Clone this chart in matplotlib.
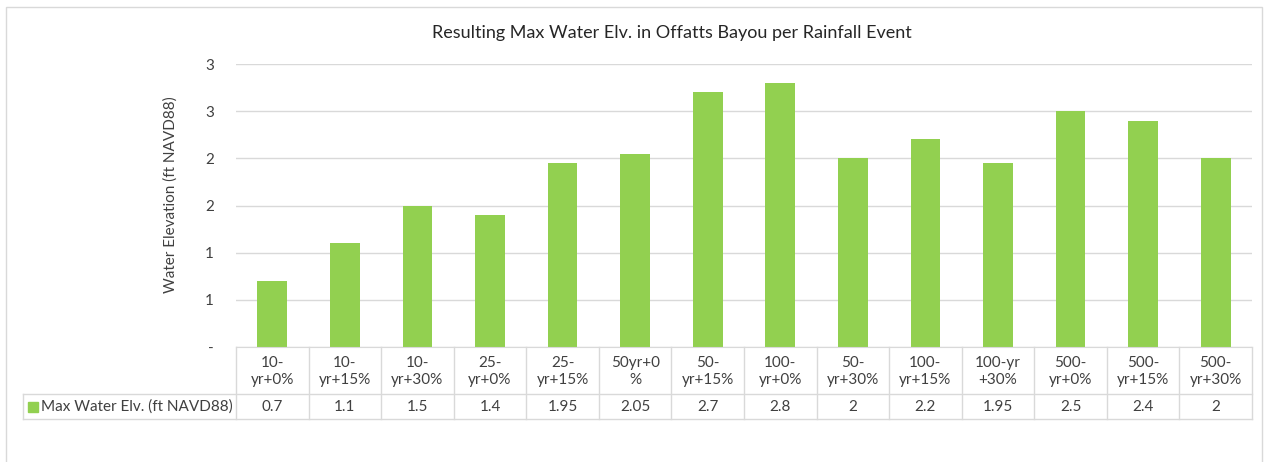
import matplotlib.pyplot as plt
from matplotlib.patches import Rectangle
from matplotlib.ticker import FuncFormatter, MultipleLocator

plt.rcParams['font.family'] = ['Lato', 'DejaVu Sans']

events = ["10-\nyr+0%", "10-\nyr+15%", "10-\nyr+30%", "25-\nyr+0%", "25-\nyr+15%",
          "50yr+0\n%", "50-\nyr+15%", "100-\nyr+0%", "50-\nyr+30%", "100-\nyr+15%",
          "100-yr\n+30%", "500-\nyr+0%", "500-\nyr+15%", "500-\nyr+30%"]
max_elev = [0.7, 1.1, 1.5, 1.4, 1.95, 2.05, 2.7, 2.8, 2, 2.2, 1.95, 2.5, 2.4, 2]
series_name = "Max Water Elv. (ft NAVD88)"

W, H = 1265, 462
bar_color = "#92D050"
grid_color = "#D9D9D9"
text_color = "#404040"
fs = 11

fig = plt.figure(figsize=(W / 100, H / 100), dpi=100)

# chart frame
fig.patches.append(Rectangle((6 / W, -0.1), 1256 / W, 1 - 7 / H + 0.1,
                             transform=fig.transFigure, fill=False,
                             edgecolor=grid_color, linewidth=1))

left, right, top, bottom = 236, 1252, 64, 347
ax = fig.add_axes([left / W, 1 - bottom / H, (right - left) / W, (bottom - top) / H])

x = range(len(events))
ax.bar(x, max_elev, width=0.41, color=bar_color, zorder=2)
ax.set_xlim(-0.5, len(events) - 0.5)
ax.set_ylim(0, 3)
ax.yaxis.set_major_locator(MultipleLocator(0.5))
ax.yaxis.set_major_formatter(FuncFormatter(lambda v, p: "-" if v == 0 else str(int(v + 0.5))))
ax.grid(axis="y", color=grid_color, linewidth=1, zorder=0)
ax.tick_params(axis="y", length=0, pad=16, labelsize=fs, labelcolor=text_color)
ax.set_xticks([])
for s in ["top", "right", "left"]:
    ax.spines[s].set_visible(False)
ax.spines["bottom"].set_color(grid_color)
ax.set_ylabel("Water Elevation (ft NAVD88)", fontsize=fs, color=text_color)
ax.yaxis.set_label_coords((178 - left) / (right - left), 1 - (195 - top) / (bottom - top))
fig.text(672 / W, 1 - 33 / H, "Resulting Max Water Elv. in Offatts Bayou per Rainfall Event",
         ha="center", va="center", fontsize=13, color="#262626")

# data table under the plot
row1, row2 = 394, 419
tab = fig.add_axes([left / W, 1 - row2 / H, (right - left) / W, (row2 - bottom) / H])
tab.set_xlim(-0.5, len(events) - 0.5)
tab.set_ylim(row2, bottom)
tab.axis("off")
line_kw = dict(color=grid_color, linewidth=1, clip_on=False)
legend_left = -0.5 - (left - 23) / ((right - left) / len(events))
for k in range(len(events) + 1):
    tab.plot([k - 0.5, k - 0.5], [bottom, row2], **line_kw)
tab.plot([legend_left, len(events) - 0.5], [row1, row1], **line_kw)
tab.plot([legend_left, len(events) - 0.5], [row2, row2], **line_kw)
tab.plot([legend_left, legend_left], [row1, row2], **line_kw)
for i, (lab, val) in enumerate(zip(events, max_elev)):
    tab.text(i, (bottom + row1) / 2 + 1, lab, ha="center", va="center",
             fontsize=fs, color=text_color, linespacing=1.35)
    tab.text(i, (row1 + row2) / 2, f"{val:g}", ha="center", va="center",
             fontsize=fs, color=text_color)
# legend key and series name
key_w = 10 / ((right - left) / len(events))
tab.add_patch(Rectangle((legend_left + 0.07, (row1 + row2) / 2 - 5), key_w, 10,
                        color=bar_color, clip_on=False))
tab.text(legend_left + 0.07 + key_w + 0.04, (row1 + row2) / 2, series_name,
         ha="left", va="center", fontsize=fs, color=text_color)

fig.savefig("out.png", dpi=100)
